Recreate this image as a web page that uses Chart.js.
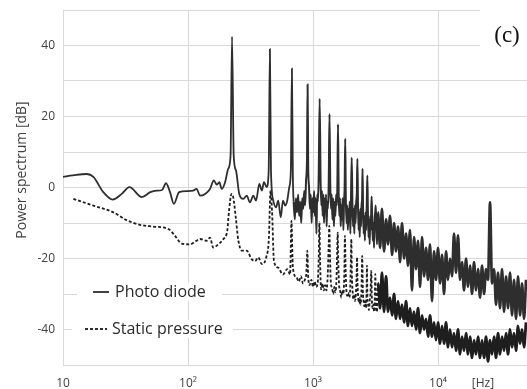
<!DOCTYPE html>
<html>
<head>
<meta charset="utf-8">
<script src="https://cdn.jsdelivr.net/npm/chart.js@4.4.1/dist/chart.umd.min.js"></script>
<style>
  html, body { margin: 0; padding: 0; background: #fff; }
  #wrap { width: 527px; height: 389px; position: relative; }
</style>
</head>
<body>
<div id="wrap"><canvas id="spectrum"></canvas></div>
<script>
// Series names and axis ticks
const seriesNames = ['Photo diode', 'Static pressure'];
const xTickValues = [10, 100, 1000, 10000, 22900];
const xTickLabels = ['10', '10²', '10³', '10⁴', '[Hz]'];

// Photo diode, low frequencies and harmonic peaks [Hz]
const pdFreq = [10, 12, 15.5, 17.5, 21, 25, 29.5, 34, 42.7, 50, 56, 62, 66.7, 71.8, 77, 85, 98, 110, 117,
  125, 137, 150, 161, 170, 178, 186, 198, 210, 219, 225, 232, 242, 257, 277, 295, 313, 333, 350, 372,
  390, 405, 426, 442, 452, 461, 481, 506, 527, 552, 575, 600, 622, 646, 665, 678, 690,
  700, 715, 730, 745, 760, 775, 790, 805, 820, 835, 850, 865, 880, 895, 905, 915, 930, 945, 960, 975,
  990, 1005, 1020, 1035, 1050, 1065, 1080, 1095, 1110, 1130, 1150, 1165, 1180, 1195, 1210, 1225, 1240,
  1255, 1270, 1285, 1300, 1315, 1335, 1355, 1375, 1395, 1410, 1430, 1450, 1470, 1490, 1510, 1530, 1550,
  1565, 1585, 1605, 1625, 1645, 1665, 1685, 1705, 1725, 1750, 1770, 1790, 1810, 1830, 1855, 1875, 1900,
  1920, 1945, 1965, 1990, 2015, 2040, 2065, 2090, 2115, 2140, 2165, 2190, 2215, 2240, 2265, 2290, 2315,
  2340, 2365, 2390, 2420, 2445, 2470, 2490, 2515, 2540, 2570, 2600, 2630, 2660, 2690, 2720, 2750, 2780,
  2810, 2840, 2870, 2900, 2925, 2945, 2975, 3005, 3040, 3075, 3110, 3145, 3175, 3210, 3250];
const pdVal = [3, 3.4, 3.8, 3, -1.3, -3.4, -1.8, 0.1, -2.7, -1.3, -0.9, -0.7, 1.2, -1.3, -4.6, -1.3, -1, -0.9, -0.4,
  -2.3, -1.8, -0.4, 2, 0.8, 1.5, -0.4, 1.5, 5.3, 9, 42.5, 9, 4.8, -1.8, -3.2, -2.3, -4.2, -2.3, -3.7, 1,
  -0.9, 1.5, 0.1, 4.8, 39, 4.8, -3.7, -5.6, -3.7, -8.4, -3.7, -5.1, -3.7, 0.1, 5, 33.5, 3,
  -4, -9, -3, -7, -2, -8, -4, -10, -3, -6, -1, -5, 2, 8, 29, 6, 0, -6, -2, -10,
  -3, -7, -1, -8, -3, -13, -2, -4, 3, 25, 2, -5, -1, -8, -2, -10, -3,
  -7, -2, -11, -4, -6, 1, 20.7, 0, -6, -2, -9, -3, -11, -4, -8, -2, -5,
  0, 17.8, -2, -8, -3, -11, -5, -9, -3, -12, -4, 0, 13.8, -3, -10, -5, -12,
  -6, -9, -4, -13, -2, 8.4, -4, -11, -6, -13, -5, -10, -4, -2, 8.1, -5, -12,
  -7, -14, -6, -11, -5, -3, 5.3, -6, -13, -8, -15, -7, -12, -5, 3.4, -7, -14,
  -9, -16, -8, -12, -6, -2.5, -9, -15, -10, -17, -9, -7, -5.1, -11, -16];

// Static pressure, low frequencies and harmonic peaks [Hz]
const spFreq = [12.1, 17.5, 25.3, 32.3, 41.3, 52.8, 69.7, 78.7, 89, 104, 117, 125, 141, 150, 159, 175, 192,
  206, 213, 223, 230, 241, 253, 270, 295, 323, 344, 365, 390, 422, 444, 457, 470, 487, 527, 575, 622,
  656, 672, 690, 740, 770, 800, 830, 860, 885, 900, 915, 940, 970, 1000, 1030, 1060, 1090, 1110, 1125,
  1140, 1160, 1190, 1220, 1250, 1280, 1310, 1335, 1350, 1365, 1390, 1420, 1450, 1480, 1510, 1540, 1560,
  1575, 1590, 1620, 1650, 1680, 1710, 1750, 1780, 1800, 1820, 1850, 1880, 1910, 1945, 1985, 2010, 2025,
  2045, 2080, 2110, 2140, 2170, 2210, 2235, 2250, 2270, 2300, 2330, 2360, 2400, 2440, 2475, 2505, 2540,
  2570, 2610, 2650, 2680, 2700, 2725, 2760, 2800, 2840, 2880, 2925, 2960, 3000, 3040, 3080, 3120, 3150,
  3190, 3250];
const spVal = [-3.2, -5.1, -7, -9.2, -10.5, -11, -11.7, -13.6, -15.8, -16, -15, -14.5, -15, -14.1, -16.9, -16, -14.5,
  -12.2, -6.5, -1.8, -2.7, -8.4, -15, -17.8, -17.8, -20.2, -20.7, -19.7, -21.6, -19.7, -14.1, -0.9, -6.5, -20.7, -22.6, -24.5, -23,
  -24.5, -9.4, -22.6, -25.4, -26.5, -25, -27, -26, -24, -17.8, -25, -27.5, -26, -28, -26.5, -28, -27, -20, -9.8,
  -21, -28.7, -27, -29, -27.5, -29, -25, -16, -10.8, -18, -27, -28.2, -30, -28, -29.5, -26, -18,
  -12.7, -20, -28, -29.2, -31, -29, -30, -24, -13.6, -22, -29, -30.5, -29.7, -31, -28, -20, -14.5,
  -24, -30, -31.5, -30.1, -32, -29, -24, -19.7, -27, -31, -32.5, -31, -33, -29, -19.3, -29, -32,
  -33.5, -32, -34, -30, -22, -31, -33, -34.5, -32, -30, -23.5, -32, -34, -33, -35, -31, -24.4,
  -33, -35];

// Noisy high-frequency band, upper and lower edges read alternately [Hz]
const bandFreq = [3310, 3440, 3560, 3700, 3840, 3980, 4130, 4290, 4450, 4610, 4790, 4970, 5150, 5350, 5550,
  5750, 5970, 6190, 6430, 6670, 6920, 7180, 7450, 7730, 8020, 8320, 8630, 8950, 9290, 9640, 10000,
  10380, 10770, 11170, 11590, 12020, 12470, 12940, 13430, 13930, 14450, 15000, 15560, 16140, 16750,
  17380, 18030, 18710, 19410, 20140, 20890, 21680, 22490, 23340, 24210, 25120, 26060, 27040, 28050,
  29110, 30200, 31330, 32510, 33730, 35000, 36310, 37670, 39080, 40550, 42070, 43650, 45290, 46990,
  48750, 50580];
const pdBand = [-7, -17, -6, -18, -9, -16, -8, -19, -10, -18, -11, -21, -10, -20, -13,
  -22, -12, -29, -14, -23, -15, -28, -14, -25, -17, -26, -16, -32, -18, -26, -17,
  -27, -19, -30, -18, -26, -20, -25, -13, -24, -13.5, -26, -21, -29, -20,
  -28, -22, -30, -21, -29, -23, -31, -22, -30, -23, -26, -4.2, -27, -23,
  -33, -24, -34, -23, -35, -25, -34, -24, -36, -26, -37, -25, -36, -27,
  -37, -26];
const spBand = [-27, -34, -24, -35, -25, -35, -31, -36, -30, -37, -32, -37, -33, -38, -32,
  -39, -34, -39, -35, -40, -34, -41, -36, -40, -37, -42, -36, -42, -38, -43, -38,
  -44, -39, -44, -38, -45, -40, -45, -41, -46, -40, -47, -42, -46, -41,
  -47, -42, -48, -43, -47, -42, -48, -43, -48, -42, -49, -43, -47, -42,
  -48, -41, -47, -42, -46, -41, -47, -40, -45, -41, -46, -39, -44, -40,
  -45, -38];

function toPoints(freqs, vals) {
  return freqs.map((f, i) => ({ x: f, y: vals[i] }));
}

const photoData = toPoints(pdFreq, pdVal).concat(toPoints(bandFreq, pdBand));
const staticData = toPoints(spFreq, spVal).concat(toPoints(bandFreq, spBand));

const FONT = '"Open Sans", "DejaVu Sans", sans-serif';
const GRID = '#d9d9d9';
const BAND_START = bandFreq[0];

// Axis title, in-plot legend and panel letter
const overlay = {
  id: 'overlay',
  afterDraw(chart) {
    const ctx = chart.ctx;
    ctx.save();
    ctx.translate(22, 170);
    ctx.rotate(-Math.PI / 2);
    ctx.font = '14px ' + FONT;
    ctx.fillStyle = '#404040';
    ctx.textAlign = 'center';
    ctx.textBaseline = 'middle';
    ctx.fillText('Power spectrum [dB]', 0, 0);
    ctx.restore();

    const rows = [
      { y: 292, box: [77, 222], line: [93, 109], tx: 115, dash: [] },
      { y: 329, box: [72, 233], line: [85, 107], tx: 112, dash: [3, 2] }
    ];
    ctx.save();
    ctx.font = '16px ' + FONT;
    ctx.textBaseline = 'middle';
    rows.forEach((r, i) => {
      ctx.fillStyle = '#fff';
      ctx.fillRect(r.box[0], r.y - 9, r.box[1] - r.box[0], 18);
      ctx.strokeStyle = '#2e2e2e';
      ctx.lineWidth = 1.8;
      ctx.setLineDash(r.dash);
      ctx.beginPath();
      ctx.moveTo(r.line[0], r.y);
      ctx.lineTo(r.line[1], r.y);
      ctx.stroke();
      ctx.setLineDash([]);
      ctx.fillStyle = '#2a2a2a';
      ctx.fillText(seriesNames[i], r.tx, r.y);
    });
    ctx.restore();

    ctx.save();
    ctx.fillStyle = '#fff';
    ctx.fillRect(480, 0, 47, 52);
    ctx.font = '23px "Liberation Serif", serif';
    ctx.fillStyle = '#111';
    ctx.textAlign = 'center';
    ctx.textBaseline = 'alphabetic';
    ctx.fillText('(c)', 507, 42);
    ctx.restore();
  }
};

new Chart(document.getElementById('spectrum'), {
  type: 'line',
  data: {
    datasets: [{
      label: seriesNames[0],
      data: photoData,
      borderColor: '#2e2e2e',
      borderWidth: 1.8,
      pointRadius: 0,
      cubicInterpolationMode: 'monotone',
      segment: {
        borderWidth: c => c.p0.parsed.x >= BAND_START ? 2.7 : (c.p0.parsed.x >= 700 ? 2 : undefined)
      }
    }, {
      label: seriesNames[1],
      data: staticData,
      borderColor: '#1e1e1e',
      borderWidth: 1.8,
      borderDash: [3, 2],
      pointRadius: 0,
      cubicInterpolationMode: 'monotone',
      segment: {
        borderWidth: c => c.p0.parsed.x >= BAND_START ? 2.8 : undefined,
        borderDash: c => c.p0.parsed.x >= BAND_START ? [] : undefined
      }
    }]
  },
  options: {
    responsive: true,
    maintainAspectRatio: false,
    animation: false,
    layout: { padding: { top: 10, right: 0, left: 0, bottom: 0 } },
    plugins: { legend: { display: false }, tooltip: { enabled: false } },
    scales: {
      x: {
        type: 'logarithmic',
        min: 10,
        max: 51500,
        afterBuildTicks: axis => { axis.ticks = xTickValues.map(v => ({ value: v })); },
        afterFit: axis => {
          axis.height = 24;
          axis.paddingLeft = 0;
          axis.paddingRight = 0;
        },
        grid: {
          color: c => (c.tick && c.tick.value === 22900) ? 'rgba(0,0,0,0)' : GRID,
          drawTicks: false
        },
        border: { color: GRID },
        ticks: {
          autoSkip: false,
          maxRotation: 0,
          padding: 11,
          color: '#404040',
          font: { family: FONT, size: 12 },
          callback: v => xTickLabels[xTickValues.indexOf(v)]
        }
      },
      y: {
        min: -50,
        max: 50,
        afterFit: axis => {
          axis.width = 63;
          axis.paddingTop = 0;
          axis.paddingBottom = 0;
        },
        grid: { color: GRID, drawTicks: false },
        border: { color: GRID },
        ticks: {
          stepSize: 10,
          padding: 8,
          color: '#404040',
          font: { family: FONT, size: 12 },
          callback: v => (v % 20 === 0 ? String(v) : '')
        }
      }
    }
  },
  plugins: [overlay]
});
</script>
</body>
</html>
